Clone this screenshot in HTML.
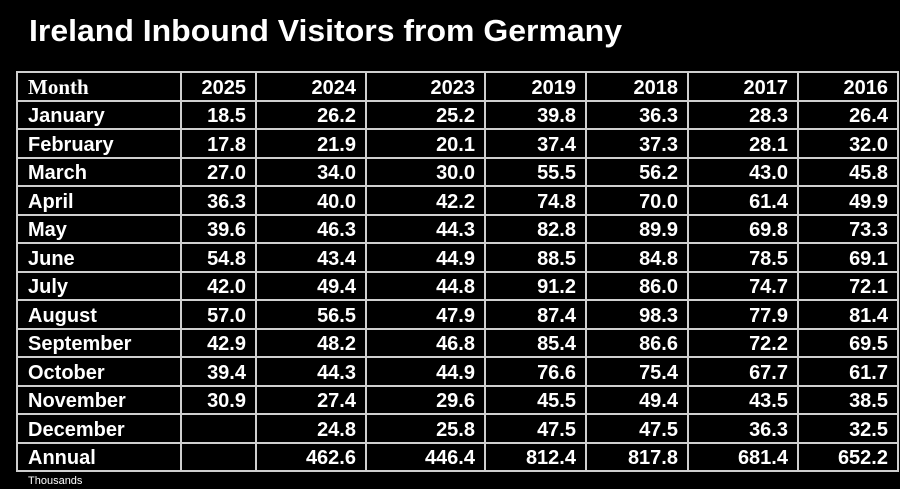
<!DOCTYPE html>
<html><head><meta charset="utf-8"><style>
html,body{margin:0;padding:0;background:#000;}
svg{display:block;}
text{font-family:"Liberation Sans",sans-serif;font-weight:bold;fill:#fff;}
</style></head><body>
<svg width="900" height="489" viewBox="0 0 900 489">
<rect width="900" height="489" fill="#000"/>
<text x="29" y="41" font-size="31" textLength="593" lengthAdjust="spacingAndGlyphs">Ireland Inbound Visitors from Germany</text>
<g stroke="#cfcfcf" stroke-width="2" fill="none">
<rect x="17" y="72" width="881" height="399"/>
<line x1="181" y1="72" x2="181" y2="471"/><line x1="256" y1="72" x2="256" y2="471"/>
<line x1="366" y1="72" x2="366" y2="471"/><line x1="485" y1="72" x2="485" y2="471"/>
<line x1="586" y1="72" x2="586" y2="471"/><line x1="688" y1="72" x2="688" y2="471"/>
<line x1="798" y1="72" x2="798" y2="471"/>
<line x1="17" y1="101" x2="898" y2="101"/><line x1="17" y1="129" x2="898" y2="129"/>
<line x1="17" y1="158" x2="898" y2="158"/><line x1="17" y1="186" x2="898" y2="186"/>
<line x1="17" y1="215" x2="898" y2="215"/><line x1="17" y1="243" x2="898" y2="243"/>
<line x1="17" y1="272" x2="898" y2="272"/><line x1="17" y1="300" x2="898" y2="300"/>
<line x1="17" y1="329" x2="898" y2="329"/><line x1="17" y1="357" x2="898" y2="357"/>
<line x1="17" y1="386" x2="898" y2="386"/><line x1="17" y1="414" x2="898" y2="414"/>
<line x1="17" y1="443" x2="898" y2="443"/>
</g>
<g font-size="20">
<text x="28" y="94" style="font-family:'Liberation Serif',serif" font-size="21">Month</text>
<g text-anchor="end">
<text x="246" y="94">2025</text><text x="356" y="94">2024</text><text x="475" y="94">2023</text><text x="576" y="94">2019</text><text x="678" y="94">2018</text><text x="788" y="94">2017</text><text x="888" y="94">2016</text>
</g>
<g>
<text x="28" y="122">January</text><text x="28" y="151">February</text><text x="28" y="179">March</text><text x="28" y="208">April</text><text x="28" y="236">May</text><text x="28" y="265">June</text><text x="28" y="293">July</text><text x="28" y="322">August</text><text x="28" y="350">September</text><text x="28" y="379">October</text><text x="28" y="407">November</text><text x="28" y="436">December</text><text x="28" y="464">Annual</text>
</g>
<g text-anchor="end">
<text x="246" y="122">18.5</text><text x="356" y="122">26.2</text><text x="475" y="122">25.2</text><text x="576" y="122">39.8</text><text x="678" y="122">36.3</text><text x="788" y="122">28.3</text><text x="888" y="122">26.4</text>
<text x="246" y="151">17.8</text><text x="356" y="151">21.9</text><text x="475" y="151">20.1</text><text x="576" y="151">37.4</text><text x="678" y="151">37.3</text><text x="788" y="151">28.1</text><text x="888" y="151">32.0</text>
<text x="246" y="179">27.0</text><text x="356" y="179">34.0</text><text x="475" y="179">30.0</text><text x="576" y="179">55.5</text><text x="678" y="179">56.2</text><text x="788" y="179">43.0</text><text x="888" y="179">45.8</text>
<text x="246" y="208">36.3</text><text x="356" y="208">40.0</text><text x="475" y="208">42.2</text><text x="576" y="208">74.8</text><text x="678" y="208">70.0</text><text x="788" y="208">61.4</text><text x="888" y="208">49.9</text>
<text x="246" y="236">39.6</text><text x="356" y="236">46.3</text><text x="475" y="236">44.3</text><text x="576" y="236">82.8</text><text x="678" y="236">89.9</text><text x="788" y="236">69.8</text><text x="888" y="236">73.3</text>
<text x="246" y="265">54.8</text><text x="356" y="265">43.4</text><text x="475" y="265">44.9</text><text x="576" y="265">88.5</text><text x="678" y="265">84.8</text><text x="788" y="265">78.5</text><text x="888" y="265">69.1</text>
<text x="246" y="293">42.0</text><text x="356" y="293">49.4</text><text x="475" y="293">44.8</text><text x="576" y="293">91.2</text><text x="678" y="293">86.0</text><text x="788" y="293">74.7</text><text x="888" y="293">72.1</text>
<text x="246" y="322">57.0</text><text x="356" y="322">56.5</text><text x="475" y="322">47.9</text><text x="576" y="322">87.4</text><text x="678" y="322">98.3</text><text x="788" y="322">77.9</text><text x="888" y="322">81.4</text>
<text x="246" y="350">42.9</text><text x="356" y="350">48.2</text><text x="475" y="350">46.8</text><text x="576" y="350">85.4</text><text x="678" y="350">86.6</text><text x="788" y="350">72.2</text><text x="888" y="350">69.5</text>
<text x="246" y="379">39.4</text><text x="356" y="379">44.3</text><text x="475" y="379">44.9</text><text x="576" y="379">76.6</text><text x="678" y="379">75.4</text><text x="788" y="379">67.7</text><text x="888" y="379">61.7</text>
<text x="246" y="407">30.9</text><text x="356" y="407">27.4</text><text x="475" y="407">29.6</text><text x="576" y="407">45.5</text><text x="678" y="407">49.4</text><text x="788" y="407">43.5</text><text x="888" y="407">38.5</text>
<text x="356" y="436">24.8</text><text x="475" y="436">25.8</text><text x="576" y="436">47.5</text><text x="678" y="436">47.5</text><text x="788" y="436">36.3</text><text x="888" y="436">32.5</text>
<text x="356" y="464">462.6</text><text x="475" y="464">446.4</text><text x="576" y="464">812.4</text><text x="678" y="464">817.8</text><text x="788" y="464">681.4</text><text x="888" y="464">652.2</text>
</g>
</g>
<text x="28" y="484" font-size="11" style="font-weight:normal">Thousands</text>
</svg>
</body></html>
